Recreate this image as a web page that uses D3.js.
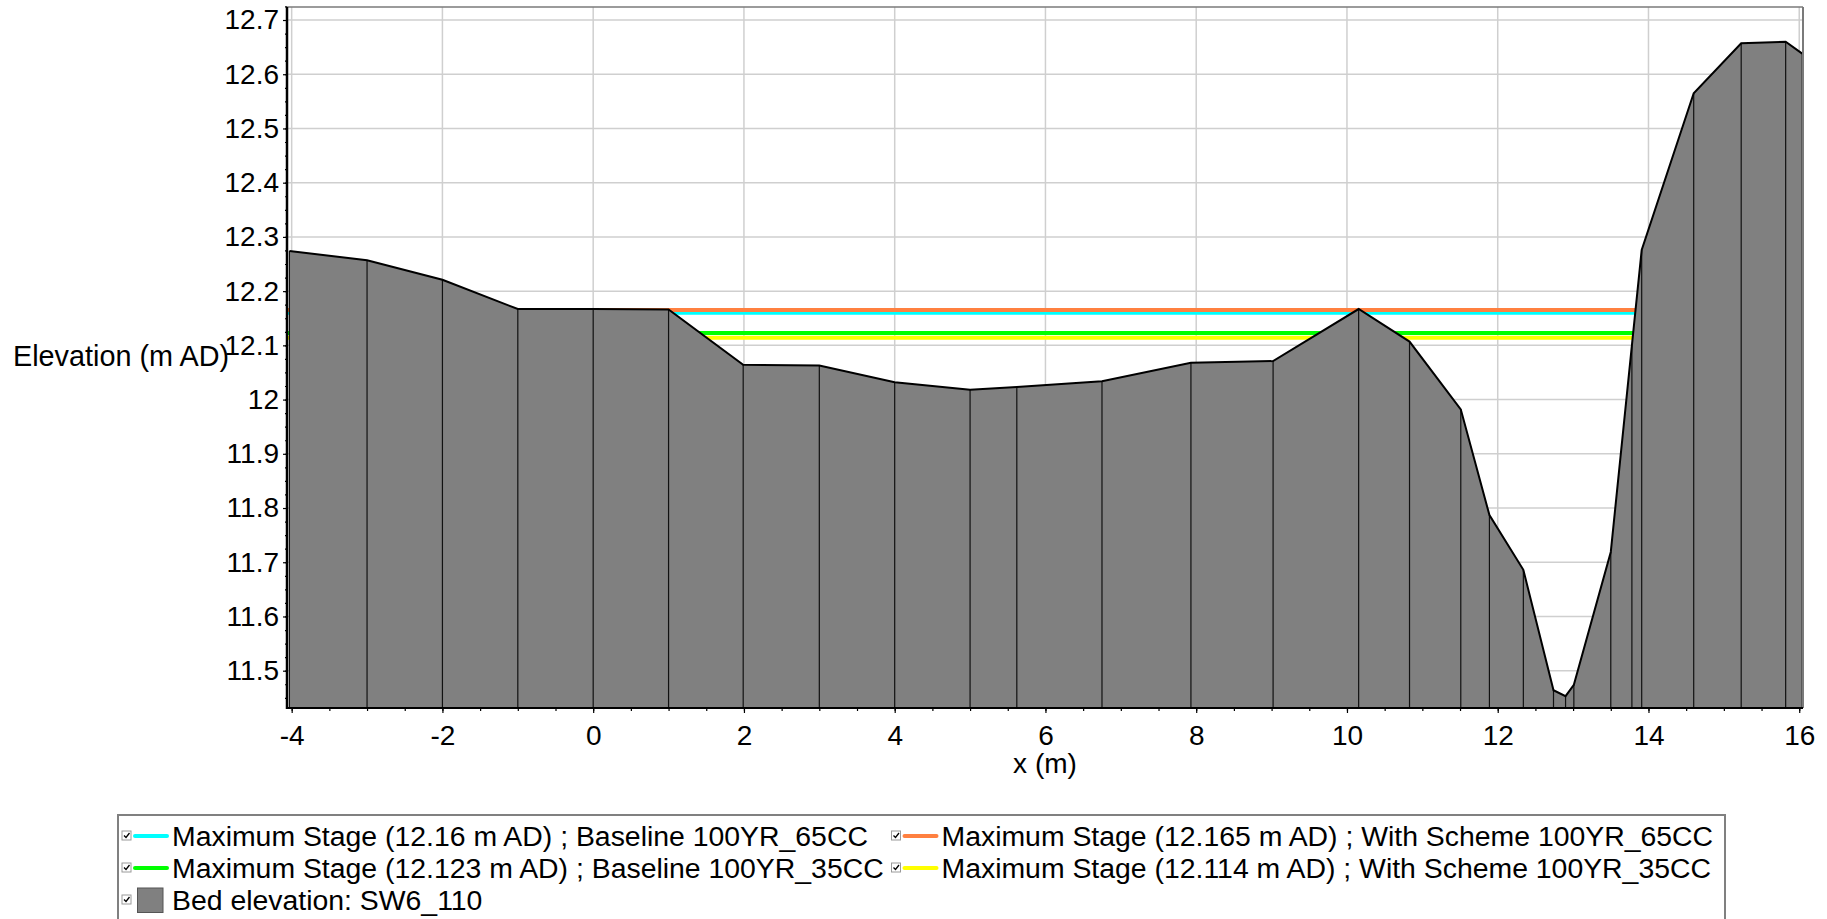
<!DOCTYPE html>
<html>
<head>
<meta charset="utf-8">
<script src="https://cdn.jsdelivr.net/npm/d3@7/dist/d3.min.js"></script>
<style>
  body { margin: 0; background: #fff; }
  text { font-family: "Liberation Sans", Arial, sans-serif; fill: #000; }
</style>
</head>
<body>
<svg id="chart" width="1827" height="919"></svg>
<script>
// ---- data ----
const chainage = [-4.03, -3.0, -2.0, -1.0, 0.0, 1.0, 1.99, 3.0, 4.0, 5.0, 5.62, 6.75, 7.93, 9.02,
                  10.155, 10.83, 11.51, 11.89, 12.34, 12.74, 12.90, 13.01, 13.50, 13.78, 13.91,
                  14.60, 15.23, 15.82, 16.04];
const bedElevation = [12.274, 12.257, 12.221, 12.167, 12.167, 12.166, 12.064, 12.063, 12.032, 12.018,
                      12.023, 12.034, 12.068, 12.071, 12.167, 12.107, 11.982, 11.787, 11.686, 11.464,
                      11.453, 11.474, 11.719, 12.10, 12.276, 12.565, 12.657, 12.66, 12.638];
const stageLabels = [
  "Maximum Stage (12.16 m AD) ; Baseline 100YR_65CC",
  "Maximum Stage (12.165 m AD) ; With Scheme 100YR_65CC",
  "Maximum Stage (12.123 m AD) ; Baseline 100YR_35CC",
  "Maximum Stage (12.114 m AD) ; With Scheme 100YR_35CC"
];
const stageValues = [12.16, 12.165, 12.123, 12.114];
const stageColors = ["#00ffff", "#ff8040", "#00ff00", "#ffff00"];
const bedLabel = "Bed elevation: SW6_110";
const xTickValues = [-4, -2, 0, 2, 4, 6, 8, 10, 12, 14, 16];
const yTickValues = [11.5, 11.6, 11.7, 11.8, 11.9, 12.0, 12.1, 12.2, 12.3, 12.4, 12.5, 12.6, 12.7];
const xTitle = "x (m)";
const yTitle = "Elevation (m AD)";

// ---- layout ----
const plot = { left: 287, right: 1803, top: 7, bottom: 708 };
const x = d3.scaleLinear().domain([-4.062, 16.05]).range([plot.left, plot.right]);
const y = d3.scaleLinear().domain([11.4312, 12.724]).range([plot.bottom, plot.top]);

const svg = d3.select("#chart");
svg.append("defs").append("clipPath").attr("id", "clip")
  .append("rect").attr("x", plot.left).attr("y", plot.top)
  .attr("width", plot.right - plot.left).attr("height", plot.bottom - plot.top);

// gridlines
const grid = svg.append("g");
grid.selectAll(".hg").data(yTickValues).join("line")
  .attr("x1", plot.left).attr("x2", plot.right)
  .attr("y1", d => y(d)).attr("y2", d => y(d))
  .attr("stroke", "#cfcfcf").attr("stroke-width", 1.5);
grid.selectAll(".vg").data(xTickValues).join("line")
  .attr("x1", d => x(d)).attr("x2", d => x(d))
  .attr("y1", plot.top).attr("y2", plot.bottom)
  .attr("stroke", "#cfcfcf").attr("stroke-width", 1.5);

const body = svg.append("g").attr("clip-path", "url(#clip)");

// stage lines (drawn under the bed)
body.selectAll(".stage").data(stageValues).join("line")
  .attr("x1", x.range()[0]).attr("x2", x.range()[1])
  .attr("y1", d => y(d)).attr("y2", d => y(d))
  .attr("stroke", (d, i) => stageColors[i]).attr("stroke-width", 4);

// bed
const pts = chainage.map((c, i) => [c, bedElevation[i]]);
body.append("path").datum(pts)
  .attr("d", d3.area().x(d => x(d[0])).y0(plot.bottom).y1(d => y(d[1])))
  .attr("fill", "#808080");
body.selectAll(".vert").data(pts).join("line")
  .attr("x1", d => x(d[0])).attr("x2", d => x(d[0]))
  .attr("y1", d => y(d[1])).attr("y2", plot.bottom)
  .attr("stroke", "#111").attr("stroke-width", 1.2);
body.append("path").datum(pts)
  .attr("d", d3.line().x(d => x(d[0])).y(d => y(d[1])))
  .attr("fill", "none").attr("stroke", "#000").attr("stroke-width", 2);

// frame (top & right)
svg.append("line").attr("x1", plot.left).attr("x2", plot.right).attr("y1", plot.top).attr("y2", plot.top)
  .attr("stroke", "#7a7a7a").attr("stroke-width", 1.5);
svg.append("line").attr("x1", plot.right).attr("x2", plot.right).attr("y1", plot.top).attr("y2", plot.bottom)
  .attr("stroke", "#7a7a7a").attr("stroke-width", 2);

// axes
const fmtY = d => String(+d.toFixed(1));
const yMinor = d3.range(11.45, 12.7251, 0.025);
const xMinor = d3.range(-4, 16.01, 0.5);

const yAxisMinor = svg.append("g").attr("transform", `translate(${plot.left},0)`)
  .call(d3.axisLeft(y).tickValues(yMinor).tickSize(2).tickFormat(""));
const yAxis = svg.append("g").attr("transform", `translate(${plot.left},0)`)
  .call(d3.axisLeft(y).tickValues(yTickValues).tickSize(4).tickPadding(4).tickFormat(fmtY));
const xAxisMinor = svg.append("g").attr("transform", `translate(0,${plot.bottom})`)
  .call(d3.axisBottom(x).tickValues(xMinor).tickSize(3).tickFormat(""));
const xAxis = svg.append("g").attr("transform", `translate(0,${plot.bottom})`)
  .call(d3.axisBottom(x).tickValues(xTickValues).tickSize(5).tickPadding(12).tickFormat(d => String(d)));

[yAxisMinor, yAxis, xAxisMinor, xAxis].forEach(g => {
  g.select(".domain").remove();
  g.selectAll(".tick line").attr("stroke", "#000").attr("stroke-width", 1.2);
  g.selectAll("text").attr("font-size", 28).attr("font-family", "Liberation Sans, Arial, sans-serif").attr("fill", "#000");
});

// axis lines
svg.append("line").attr("x1", plot.left).attr("x2", plot.left).attr("y1", plot.top).attr("y2", plot.bottom + 1)
  .attr("stroke", "#000").attr("stroke-width", 2.5);
svg.append("line").attr("x1", plot.left).attr("x2", plot.right).attr("y1", plot.bottom).attr("y2", plot.bottom)
  .attr("stroke", "#000").attr("stroke-width", 2);

// titles
svg.append("text").attr("x", (plot.left + plot.right) / 2).attr("y", 773)
  .attr("text-anchor", "middle").attr("font-size", 28).text(xTitle);
svg.append("text").attr("x", 13).attr("y", 366)
  .attr("text-anchor", "start").attr("font-size", 28.8).text(yTitle);

// legend
const lg = svg.append("g");
lg.append("rect").attr("x", 118).attr("y", 815).attr("width", 1607).attr("height", 200)
  .attr("fill", "none").attr("stroke", "#808080").attr("stroke-width", 2);

function checkbox(cx, cy) {
  lg.append("rect").attr("x", cx).attr("y", cy).attr("width", 9).attr("height", 9)
    .attr("fill", "#fff").attr("stroke", "#9a9a9a").attr("stroke-width", 1);
  lg.append("path").attr("d", `M${cx + 2},${cy + 4.5} L${cx + 4},${cy + 6.5} L${cx + 7.5},${cy + 2}`)
    .attr("fill", "none").attr("stroke", "#000").attr("stroke-width", 1.3);
}
const colX = [122, 891.5];
const rowBase = [846, 878, 910];
stageLabels.forEach((lab, i) => {
  const cx = colX[i % 2], base = rowBase[Math.floor(i / 2)];
  checkbox(cx, base - 15);
  lg.append("line").attr("x1", cx + 13).attr("x2", cx + 45)
    .attr("y1", base - 10).attr("y2", base - 10)
    .attr("stroke", stageColors[i]).attr("stroke-width", 4).attr("stroke-linecap", "round");
  lg.append("text").attr("x", cx + 50).attr("y", base).attr("font-size", 28.4).text(lab);
});
checkbox(colX[0], rowBase[2] - 15);
lg.append("rect").attr("x", 137.5).attr("y", 888).attr("width", 25.5).attr("height", 24.5)
  .attr("fill", "#808080").attr("stroke", "#555").attr("stroke-width", 1);
lg.append("text").attr("x", colX[0] + 50).attr("y", rowBase[2]).attr("font-size", 28.4).text(bedLabel);
</script>
</body>
</html>
